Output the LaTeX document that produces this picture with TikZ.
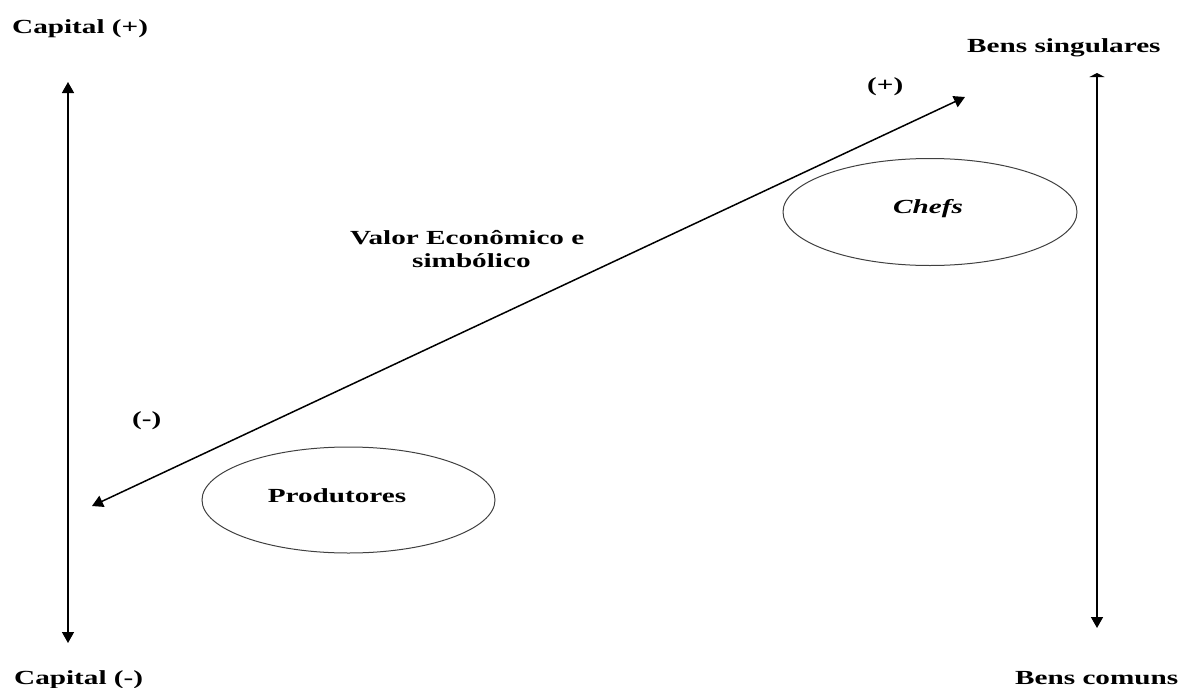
\documentclass[tikz,border=0pt]{standalone}
\usepackage{fontspec}
\setmainfont[FakeStretch=1.46]{Liberation Serif}
\usetikzlibrary{arrows.meta}
\begin{document}
\begin{tikzpicture}[x=1pt,y=-1pt,
  lbl/.style={inner sep=0pt,font=\fontsize{20}{24}\selectfont\bfseries},
  axis/.style={line width=1.5pt,{Triangle[length=11pt,width=12pt]}-{Triangle[length=11pt,width=12pt]}},
  oval/.style={draw=black!75,line width=1pt,ellipse,minimum width=294pt,minimum height=107pt,inner sep=0pt}]
\useasboundingbox (0,0) rectangle (1178,688);
% labels
\node[lbl,anchor=base west] (capp) at (12,33) {Capital (+)};
\node[lbl,anchor=base west] (capm) at (14,684) {Capital (-)};
\node[lbl,anchor=base west] (bsing) at (967,52) {Bens singulares};
\node[lbl,anchor=base west] (bcom) at (1015,684) {Bens comuns};
\node[lbl,anchor=base west] (plus) at (867,91) {(+)};
\node[lbl,anchor=base west] (minus) at (132,425) {(-)};
\node[lbl,anchor=base west] (val1) at (350,244) {Valor Econômico e};
\node[lbl,anchor=base west] (val2) at (412,267) {simbólico};
% coordinates
\coordinate (lt) at (68,82);
\coordinate (lb) at (68,643);
\coordinate (rt) at (1097,73);
\coordinate (rb) at (1097,628);
\coordinate (d1) at (92,506);
\coordinate (d2) at (965,97);
% arrows
\draw[axis] (lb) -- (lt);
\draw[line width=1.5pt,{Triangle[length=4pt,width=15pt]}-{Triangle[length=11pt,width=12pt]}] (rt) -- (rb);
\draw[axis] (d1) -- (d2);
% ellipses
\draw[draw=black!75,line width=1pt] (930,212) ellipse [x radius=147, y radius=53.5];
\node[lbl,font=\fontsize{20}{24}\selectfont\bfseries\itshape,anchor=base] (chefs) at (928,213) {Chefs};
\draw[draw=black!75,line width=1pt] (348.5,500) ellipse [x radius=146.5, y radius=53];
\node[lbl,anchor=base] (prod) at (337,502) {Produtores};
\end{tikzpicture}
\end{document}
